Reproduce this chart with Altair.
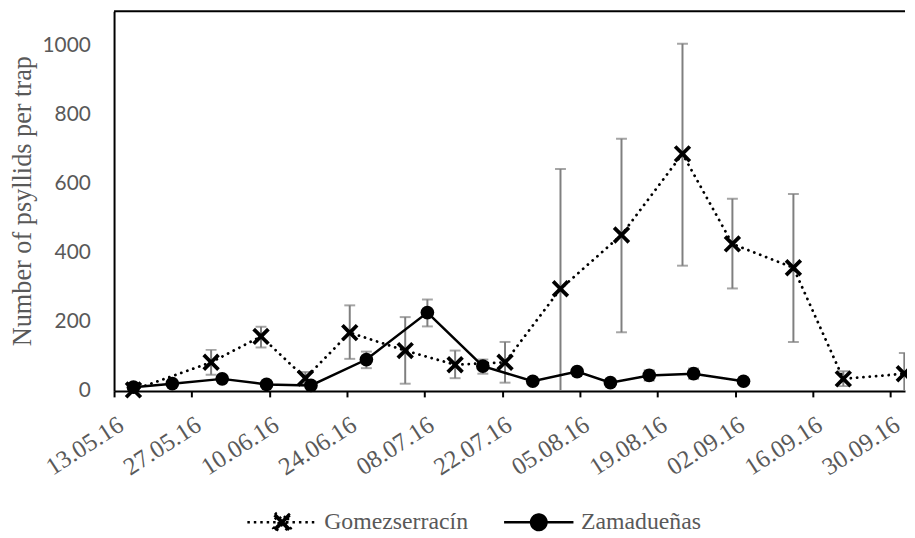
import altair as alt
import pandas as pd

# ---------------- data ----------------
G_DATES = ["2016-05-16", "2016-05-30", "2016-06-08", "2016-06-16", "2016-06-24",
           "2016-07-04", "2016-07-13", "2016-07-22", "2016-08-01", "2016-08-12",
           "2016-08-23", "2016-09-01", "2016-09-12", "2016-09-21", "2016-10-02"]
G_VALUES = [3, 83, 158, 37, 169, 117, 76, 83, 296, 452, 687, 426, 357, 35, 50]
G_LOW = [0, 47, 126, 22, 93, 21, 37, 24, -51, 170, 363, 297, 142, 14, -10]
G_HIGH = [6, 119, 186, 55, 248, 214, 117, 142, 643, 731, 1006, 557, 571, 57, 110]

Z_DATES = ["2016-05-16", "2016-05-23", "2016-06-01", "2016-06-09", "2016-06-17",
           "2016-06-27", "2016-07-08", "2016-07-18", "2016-07-27", "2016-08-04",
           "2016-08-10", "2016-08-17", "2016-08-25", "2016-09-03"]
Z_VALUES = [11, 21, 35, 19, 16, 91, 227, 72, 28, 56, 24, 45, 50, 28]
Z_LOW = [8, 17, 30, 15, 12, 66, 187, 50, 24, 50, 20, 30, 35, 24]
Z_HIGH = [14, 25, 40, 23, 20, 114, 265, 91, 32, 62, 28, 60, 65, 32]

SERIES = ["Gomezserracín", "Zamadueñas"]
X_TICKS = ["2016-05-13", "2016-05-27", "2016-06-10", "2016-06-24", "2016-07-08",
           "2016-07-22", "2016-08-05", "2016-08-19", "2016-09-02", "2016-09-16",
           "2016-09-30"]
X_START = "2016-05-13"
X_END = "2016-10-02T15:00"
Y_TICKS = [0, 200, 400, 600, 800, 1000]
Y_MAX = 1100
Y_TITLE = "Number of psyllids per trap"

# ---------------- styling ----------------
SERIF = "'Liberation Serif', 'DejaVu Serif', 'Times New Roman', serif"
SANS = "Lato"
TEXT_GRAY = "#595959"
BAR_GRAY = "#7f7f7f"


def ms(s):
    return int(pd.Timestamp(s, tz="UTC").value // 10**6)


def x_poly(a, w, s=1.0):
    pts = [(-w, -a), (w, -a), (w, -w), (a, -w), (a, w), (w, w), (w, a), (-w, a),
           (-w, w), (-a, w), (-a, -w), (-w, -w)]
    r = 0.70710678
    return "M" + "L".join(f"{(x - y) * r * s:.4f},{(x + y) * r * s:.4f}" for x, y in pts) + "Z"


def circ(r):
    return f"M{-r:.4f},0A{r:.4f},{r:.4f} 0 1,0 {r:.4f},0A{r:.4f},{r:.4f} 0 1,0 {-r:.4f},0Z"


MARK_R = 8.0      # px per unit for point marks (size 256)
LEG_R = 35.0      # px per unit for legend symbols (size 4900)
X_ARM, X_HALF_W = 10.5, 1.9
X_MARK_PATH = x_poly(X_ARM / MARK_R, X_HALF_W / MARK_R)
G_LEG_PATH = "M-1,0L1,0" + x_poly(X_ARM / LEG_R, X_HALF_W / LEG_R)
Z_LEG_PATH = "M-1,0L1,0" + circ(7.8 / LEG_R)

gdf = pd.DataFrame({"date": G_DATES, "value": G_VALUES, "lo": G_LOW, "hi": G_HIGH,
                    "series": SERIES[0]})
zdf = pd.DataFrame({"date": Z_DATES, "value": Z_VALUES, "lo": Z_LOW, "hi": Z_HIGH,
                    "series": SERIES[1]})
alldf = pd.concat([gdf, zdf], ignore_index=True)
topdf = pd.DataFrame({"value": [Y_MAX]})

x_axis = alt.Axis(values=[ms(d) for d in X_TICKS],
                  labelExpr="utcFormat(datum.value, '%d.%m.%y')",
                  labelAngle=-33, labelAlign="right", labelBaseline="top",
                  labelFont=SERIF, labelFontSize=25, labelColor=TEXT_GRAY, labelPadding=15,
                  tickColor="black", tickWidth=2, tickSize=6,
                  domainColor="black", domainWidth=2, grid=False,
                  labelOverlap=False, labelBound=False, labelFlush=False)
y_axis = alt.Axis(values=Y_TICKS, format="d", ticks=False, grid=False,
                  domainColor="black", domainWidth=2,
                  labelFont=SANS, labelFontSize=21, labelColor=TEXT_GRAY, labelPadding=24,
                  titleFont=SERIF, titleFontSize=26.5, titleFontWeight="normal",
                  titleColor=TEXT_GRAY, titleX=-92, titleY=191, titleAngle=270,
                  titleAlign="center", titleBaseline="middle")

x_scale = alt.Scale(type="utc", domain=[ms(X_START), ms(X_END)])
y_scale = alt.Scale(domain=[0, Y_MAX], nice=False, zero=True)


def X():
    return alt.X("t:T", scale=x_scale, axis=x_axis, title=None)


def Y(field="value"):
    return alt.Y(f"{field}:Q", scale=y_scale, axis=y_axis, title=Y_TITLE)


def base(df):
    return alt.Chart(df).transform_calculate(
        t="toNumber(toDate(datum.date)) + 43200000")


top_rule = alt.Chart(topdf).mark_rule(color="black", strokeWidth=2).encode(y=Y())

err = base(alldf).mark_rule(color=BAR_GRAY, strokeWidth=2, clip=True).encode(
    x=X(), y=Y("lo"), y2="hi:Q")
cap_lo = base(alldf).mark_tick(color=BAR_GRAY, orient="horizontal", size=11, thickness=2,
                               clip=True).encode(x=X(), y=Y("lo"))
cap_hi = base(alldf).mark_tick(color=BAR_GRAY, orient="horizontal", size=11, thickness=2,
                               clip=True).encode(x=X(), y=Y("hi"))


def legend(path, x, dash):
    return alt.Legend(orient="none", legendX=x, legendY=479, title=None,
                      symbolType=path, symbolSize=4900, symbolStrokeWidth=2.5,
                      symbolStrokeColor="black", symbolFillColor="black", symbolDash=dash,
                      labelFont=SERIF, labelFontSize=24, labelColor=TEXT_GRAY,
                      labelOffset=6, labelLimit=300, padding=0)


g_line = base(gdf).mark_line(color="black", strokeWidth=2.8, strokeDash=[0.1, 6.3],
                             strokeCap="round").encode(
    x=X(), y=Y(),
    opacity=alt.Opacity("series:N", scale=alt.Scale(domain=[SERIES[0]], range=[1]),
                        legend=legend(G_LEG_PATH, 133, [2.5, 4])))
z_line = base(zdf).mark_line(color="black", strokeWidth=2.5).encode(
    x=X(), y=Y(),
    opacity=alt.Opacity("series:N", scale=alt.Scale(domain=[SERIES[1]], range=[1]),
                        legend=legend(Z_LEG_PATH, 392, [1, 0])))

g_pts = base(gdf).mark_point(shape=X_MARK_PATH, size=256, filled=True, color="black",
                             opacity=1, strokeWidth=0).encode(x=X(), y=Y())
z_pts = base(zdf).mark_circle(size=190, color="black", opacity=1).encode(x=X(), y=Y())

chart = alt.layer(top_rule, err, cap_lo, cap_hi, g_line, z_line, g_pts, z_pts).resolve_scale(
    opacity="independent").resolve_legend(opacity="independent").properties(
    width=798, height=383,
    autosize=alt.AutoSizeParams(type="none"),
    padding={"left": 107, "top": 1, "right": 2, "bottom": 146},
).configure_view(stroke=None)

chart.save("out.html", embed_options={"renderer": "svg", "actions": False})
